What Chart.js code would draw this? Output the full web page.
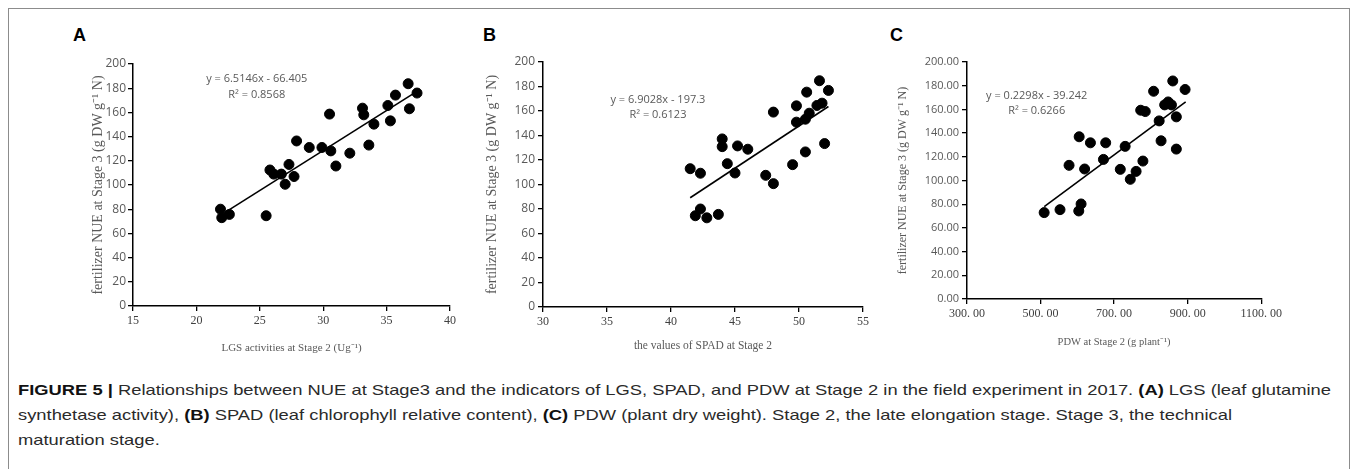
<!DOCTYPE html>
<html>
<head>
<meta charset="utf-8">
<script src="https://cdn.jsdelivr.net/npm/chart.js@4.4.1/dist/chart.umd.min.js"></script>
<style>
body { margin: 0; background: #fff; width: 1357px; height: 469px; overflow: hidden; position: relative; font-family: "Liberation Sans", Arial, sans-serif; }
#frame { position: absolute; left: 8px; top: 8px; width: 1340px; height: 480px; border: 1px solid #8c8c8c; }
.panel { position: absolute; }
.tag { position: absolute; font: bold 18px "Liberation Sans", Arial, sans-serif; color: #000; line-height: 18px; }
#caption { position: absolute; left: 18px; top: 377px; font-size: 15px; line-height: 25px; color: #2a2a2a; white-space: nowrap; transform-origin: 0 0; }
#caption b { font-weight: bold; color: #111; }
</style>
</head>
<body>
<div id="frame"></div>
<div class="tag" style="left:73px;top:26px">A</div>
<div class="tag" style="left:483px;top:26px">B</div>
<div class="tag" style="left:890px;top:26px">C</div>

<canvas id="chartA" class="panel" style="left:70px;top:50px" width="390" height="310"></canvas>
<canvas id="chartB" class="panel" style="left:480px;top:50px" width="393" height="310"></canvas>
<canvas id="chartC" class="panel" style="left:890px;top:50px" width="395" height="310"></canvas>

<div id="caption"><span id="line1"><b>FIGURE 5 |</b> Relationships between NUE at Stage3 and the indicators of LGS, SPAD, and PDW at Stage 2 in the field experiment in 2017. <b>(A)</b> LGS (leaf glutamine</span><br>synthetase activity), <b>(B)</b> SPAD (leaf chlorophyll relative content), <b>(C)</b> PDW (plant dry weight). Stage 2, the late elongation stage. Stage 3, the technical<br>maturation stage.</div>

<script>
// Data (27 plots, same NUE set in each panel)
const lgsX = [21.9, 22.0, 22.6, 25.5, 25.8, 26.1, 26.7, 27.0, 27.3, 27.7, 27.9, 28.9, 29.9, 30.6, 30.5, 31.0, 32.1, 33.1, 33.2, 33.6, 34.0, 35.1, 35.3, 35.7, 36.7, 36.8, 37.4];
const nueA = [80, 73, 75.7, 74.6, 112.4, 109, 109, 100.6, 117, 107, 136.4, 131, 131, 128.2, 158.6, 115.7, 126.3, 163.5, 158, 133, 150.3, 165.7, 153, 174.3, 183.7, 163, 176];

const spadX = [41.5, 41.9, 42.3, 42.3, 42.8, 43.7, 44.0, 44.0, 44.4, 45.0, 45.2, 46.0, 47.4, 48.0, 48.0, 49.5, 49.8, 49.8, 50.5, 50.5, 50.6, 50.8, 51.4, 51.6, 51.8, 52.0, 52.3];
const nueB = [112.9, 74.5, 80, 109.2, 72.8, 75.6, 137.2, 130.9, 117, 109.4, 131.5, 128.8, 107.5, 100.7, 159.1, 116.2, 164.2, 150.9, 153.3, 126.6, 175.4, 158.2, 164.5, 184.7, 166.4, 133.4, 176.8];

const pdwX = [509.8, 552.9, 577.5, 603.9, 605, 610.2, 619.8, 635.6, 671, 677.1, 716.8, 730, 744, 759.8, 772.3, 778.3, 784.7, 807.4, 822.5, 827.7, 837.5, 847, 855.9, 859.5, 869.2, 869.2, 893];
const nueC = [72.9, 75.4, 112.8, 74.3, 136.9, 80.2, 109.7, 131.8, 117.8, 131.8, 109.4, 128.8, 101, 107.7, 159.3, 116.4, 158.2, 175.3, 150.3, 133.5, 163.8, 166.3, 163.8, 184, 153.7, 126.5, 176.8];

// trend line ends, as drawn
const trendAX = [22.2, 37.3], trendAY = [77, 176.8];
const trendBX = [41.5, 52.3], trendBY = [89.2, 163.7];
const trendCX = [510, 894.6], trendCY = [78, 166.3];

// tick labels
const xTicksA = [15, 20, 25, 30, 35, 40];
const xTicksB = [30, 35, 40, 45, 50, 55];
const xTicksC = [300, 500, 700, 900, 1100];
const xLabelsC = ['300. 00', '500. 00', '700. 00', '900. 00', '1100. 00'];
const yTicks = [0, 20, 40, 60, 80, 100, 120, 140, 160, 180, 200];

const eqA = ['y = 6.5146x - 66.405', 'R² = 0.8568'];
const eqB = ['y = 6.9028x - 197.3', 'R² = 0.6123'];
const eqC = ['y = 0.2298x - 39.242', 'R² = 0.6266'];

const yTitle = 'fertilizer NUE at Stage 3 (g DW g⁻¹ N)';

const toPts = (xs, ys) => xs.map((x, i) => ({ x: x, y: ys[i] }));

// write the regression text in data space
const eqPlugin = {
    id: 'eqText',
    afterDatasetsDraw(chart, args, o) {
        const { ctx, scales: { x, y } } = chart;
        ctx.save();
        ctx.font = '11px "Open Sans", sans-serif';
        ctx.fillStyle = '#595959';
        ctx.textAlign = 'center';
        ctx.textBaseline = 'middle';
        o.lines.forEach((t, i) => {
            ctx.fillText(t, x.getPixelForValue(o.x), y.getPixelForValue(o.y[i]));
        });
        ctx.restore();
    }
};

function makePanel(id, p) {
    return new Chart(document.getElementById(id), {
        type: 'scatter',
        data: {
            datasets: [{
                data: toPts(p.xs, p.ys),
                backgroundColor: '#000',
                borderColor: '#000',
                pointRadius: 5,
                pointHoverRadius: 5
            }, {
                type: 'line',
                data: toPts(p.tx, p.ty),
                borderColor: '#000',
                borderWidth: 1.6,
                pointRadius: 0,
                fill: false
            }]
        },
        options: {
            responsive: false,
            animation: false,
            events: [],
            layout: { padding: { left: 0, right: p.padRight, top: p.padTop, bottom: 0 } },
            plugins: {
                legend: { display: false },
                tooltip: { enabled: false },
                eqText: { lines: p.eq, x: p.eqX, y: p.eqY }
            },
            scales: {
                x: {
                    type: 'linear',
                    min: p.xTicks[0],
                    max: p.xTicks[p.xTicks.length - 1],
                    afterBuildTicks: s => { s.ticks = p.xTicks.map(v => ({ value: v })); },
                    afterFit: s => { s.height = p.xAxisH; },
                    border: { display: true, color: '#000', width: 1.5 },
                    grid: { display: true, drawOnChartArea: false, drawTicks: true, tickLength: 5, color: '#000', lineWidth: 1.3 },
                    ticks: {
                        padding: 3,
                        color: '#404040',
                        font: { family: '"Liberation Serif", serif', size: p.xTickSize },
                        callback: (v, i) => p.xLabels ? p.xLabels[i] : String(v)
                    },
                    title: {
                        display: true,
                        text: p.xTitle,
                        color: '#595959',
                        font: { family: '"Liberation Serif", serif', size: p.xTitleSize },
                        padding: { top: 0, bottom: p.xTitlePad }
                    }
                },
                y: {
                    min: 0,
                    max: 200,
                    afterBuildTicks: s => { s.ticks = yTicks.map(v => ({ value: v })); },
                    afterFit: s => { s.width = p.yAxisW; },
                    border: { display: true, color: '#000', width: 1.5 },
                    grid: { display: true, drawOnChartArea: false, drawTicks: true, tickLength: 5, color: '#000', lineWidth: 1.3 },
                    ticks: {
                        padding: p.yTickPad,
                        color: '#595959',
                        font: { family: '"Open Sans", sans-serif', size: p.yTickSize },
                        callback: v => p.yFixed ? v.toFixed(2) : String(v)
                    },
                    title: {
                        display: true,
                        text: yTitle,
                        color: '#595959',
                        font: { family: '"Liberation Serif", serif', size: p.yTitleSize },
                        padding: { top: p.yTitlePad, bottom: 0 }
                    }
                }
            }
        },
        plugins: [eqPlugin]
    });
}

makePanel('chartA', {
    xs: lgsX, ys: nueA, tx: trendAX, ty: trendAY,
    xTicks: xTicksA, xTitle: 'LGS activities at Stage 2 (Ug⁻¹)',
    eq: eqA, eqX: 24.76, eqY: [187.6, 174.6],
    padRight: 10, padTop: 14, xAxisH: 54, yAxisW: 63,
    xTickSize: 12, xTitleSize: 11, xTitlePad: 5,
    yTickSize: 12, yTickPad: 2, yTitleSize: 14, yTitlePad: 20
});

makePanel('chartB', {
    xs: spadX, ys: nueB, tx: trendBX, ty: trendBY,
    xTicks: xTicksB, xTitle: 'the values of SPAD at Stage 2',
    eq: eqB, eqX: 38.98, eqY: [169.1, 156.9],
    padRight: 10, padTop: 12, xAxisH: 53, yAxisW: 63,
    xTickSize: 12, xTitleSize: 11.5, xTitlePad: 7,
    yTickSize: 12, yTickPad: 3, yTitleSize: 14, yTitlePad: 4
});

makePanel('chartC', {
    xs: pdwX, ys: nueC, tx: trendCX, ty: trendCY,
    xTicks: xTicksC, xLabels: xLabelsC, xTitle: 'PDW at Stage 2 (g plant⁻¹)',
    eq: eqC, eqX: 489.5, eqY: [171.1, 158.8],
    padRight: 15, padTop: 12, xAxisH: 61, yAxisW: 77,
    xTickSize: 12, xTitleSize: 10.5, xTitlePad: 11,
    yTickSize: 11, yTickPad: 3, yTitleSize: 12, yTitlePad: 6,
    yFixed: true
});

// squeeze the caption so line one ends where it does in the figure
const cap = document.getElementById('caption');
const w1 = document.getElementById('line1').getBoundingClientRect().width;
cap.style.transform = 'scaleX(' + (1313 / w1) + ')';
</script>
</body>
</html>
